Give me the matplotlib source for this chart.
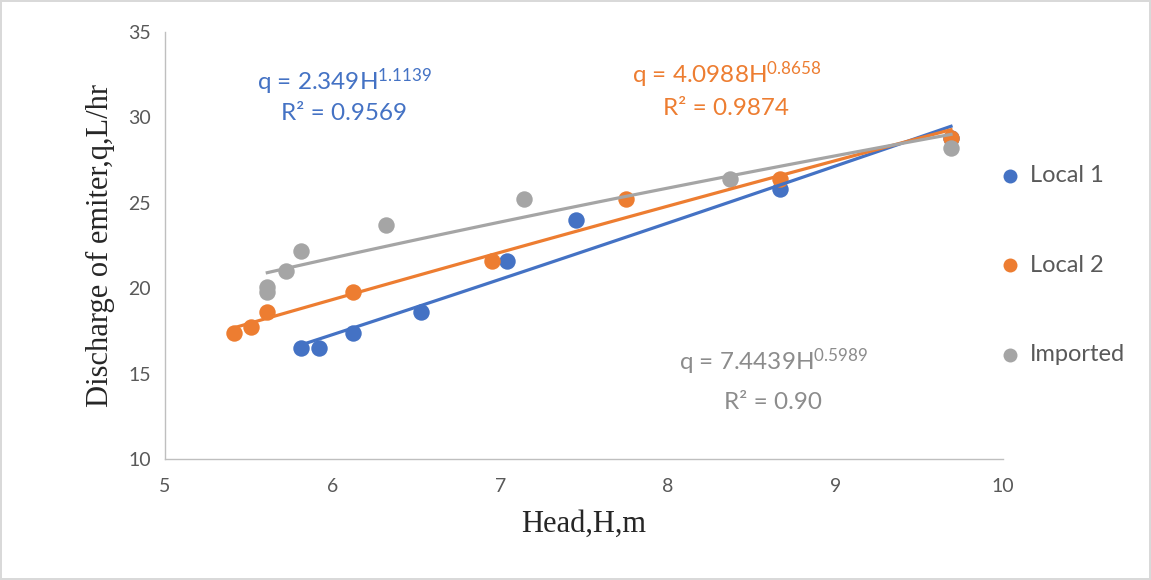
import matplotlib
matplotlib.use("Agg")
import matplotlib.pyplot as plt
import numpy as np

# head (m) and discharge (L/hr)
local1_h = [5.81, 5.92, 6.12, 6.53, 7.04, 7.45, 8.67, 9.69]
local1_q = [16.5, 16.5, 17.4, 18.6, 21.6, 24.0, 25.8, 28.8]
local2_h = [5.41, 5.51, 5.61, 6.12, 6.95, 7.75, 8.67, 9.69]
local2_q = [17.4, 17.7, 18.6, 19.8, 21.6, 25.2, 26.4, 28.8]
imported_h = [5.61, 5.61, 5.72, 5.81, 6.32, 7.14, 8.37, 9.69]
imported_q = [20.1, 19.8, 21.0, 22.2, 23.7, 25.2, 26.4, 28.2]

# power trendlines q = a*H^b as printed on the chart
fit_a = [2.349, 4.0988, 7.4439]
fit_b = [1.1139, 0.8658, 0.5989]
fit_a_txt = ["2.349", "4.0988", "7.4439"]
fit_b_txt = ["1.1139", "0.8658", "0.5989"]
r2_txt = ["0.9569", "0.9874", "0.90"]

names = ["Local 1", "Local 2", "Imported"]
colors = ["#4472C4", "#ED7D31", "#A5A5A5"]

plt.rcParams['font.family'] = ['Lato', 'DejaVu Sans']

fig = plt.figure(figsize=(11.51, 5.8), dpi=100)
fig.patch.set_edgecolor("#D9D9D9")
fig.patch.set_linewidth(1.5)
ax = fig.add_axes([0.1434, 0.2086, 0.728, 0.7362])

series = [(local1_h, local1_q), (local2_h, local2_q), (imported_h, imported_q)]

# points
for i, (h, q) in enumerate(series):
    ax.scatter(h, q, s=140, color=colors[i], label=names[i], zorder=3 + i, linewidths=0)

# trendlines
for i, (h, q) in enumerate(series):
    hh = np.linspace(min(h), max(h), 100)
    ax.plot(hh, fit_a[i] * hh ** fit_b[i], color=colors[i], lw=2.3, zorder=6 + i)

ax.set_xlim(5, 10)
ax.set_ylim(10, 35)
ax.set_xticks([5, 6, 7, 8, 9, 10])
ax.set_yticks([10, 15, 20, 25, 30, 35])
ax.tick_params(length=0, labelsize=14, labelcolor="#595959")
ax.tick_params(axis="x", pad=14)
ax.tick_params(axis="y", pad=10)
for s in ["top", "right"]:
    ax.spines[s].set_visible(False)
for s in ["left", "bottom"]:
    ax.spines[s].set_color("#BFBFBF")
    ax.spines[s].set_linewidth(1)

ax.set_xlabel("Head,H,m", family="Liberation Serif", fontsize=22, color="#262626", labelpad=10)
ax.set_ylabel("Discharge of emiter,q,L/hr", family="Liberation Serif", fontsize=22,
              color="#262626", labelpad=10)

# equation labels
eq_pos = [(6.07, 32.1), (8.35, 32.5), (8.63, 15.7)]
r2_pos = [(6.07, 30.2), (8.35, 30.5), (8.63, 13.3)]
txt_colors = ["#4472C4", "#ED7D31", "#8C8C8C"]
for i in range(3):
    ax.text(eq_pos[i][0], eq_pos[i][1],
            "q = " + fit_a_txt[i] + r"H$\mathregular{^{" + fit_b_txt[i] + "}}$",
            color=txt_colors[i], fontsize=17.5, ha="center", va="center")
    ax.text(r2_pos[i][0], r2_pos[i][1], "R² = " + r2_txt[i],
            color=txt_colors[i], fontsize=17.5, ha="center", va="center")

leg = ax.legend(loc="center left", bbox_to_anchor=(0.983, 0.454), frameon=False,
                fontsize=17, labelspacing=2.9, handlelength=1.0, handletextpad=0.35,
                borderaxespad=0, markerscale=0.85)
for t in leg.get_texts():
    t.set_color("#595959")

fig.savefig("out.png", dpi=100)
